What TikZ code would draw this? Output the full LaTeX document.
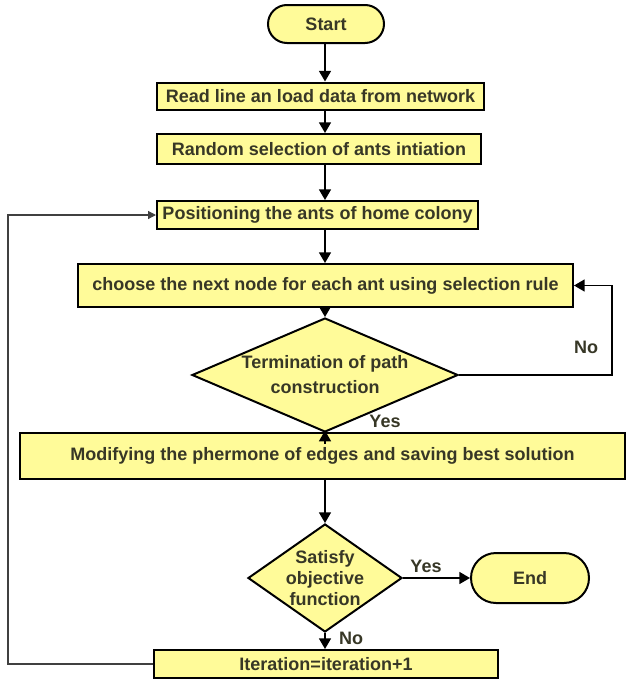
\documentclass[tikz,border=0pt]{standalone}
\usepackage{fontspec}
\setmainfont{Liberation Sans}
\usetikzlibrary{shapes.geometric,shapes.misc,arrows.meta}
\definecolor{boxfill}{RGB}{255,251,153}
\definecolor{txtcol}{RGB}{55,55,38}
\begin{document}
\begin{tikzpicture}[x=0.75pt,y=0.75pt,yscale=-1,xscale=1,
        proc/.style={draw=black,line width=1.5pt,fill=boxfill,inner sep=0pt,text=txtcol,font=\fontsize{13.5}{16}\selectfont\bfseries},
        termbox/.style={proc,rounded rectangle},
        decide/.style={proc,diamond},
        lbl/.style={inner sep=0.75pt,text=txtcol,align=center,font=\fontsize{13.5}{16}\selectfont\bfseries},
        flow/.style={line width=1.2pt,-{Triangle[width=9pt,length=8pt]}},
        backflow/.style={line width=0.9pt,draw=black!75,-{Triangle[width=6pt,length=6pt]}}]
        \useasboundingbox (0,0) rectangle (627,682);
        \coordinate (axis) at (325,0);
        \node[termbox,minimum width=87pt,minimum height=28.5pt] (start) at (326,24) {Start};
        \node[proc,minimum width=245.25pt,minimum height=20.25pt] (read) at (320.5,96) {Read line an load data from network};
        \node[proc,minimum width=243pt,minimum height=22.5pt] (rand) at (319,149) {Random selection of ants intiation};
        \node[proc,minimum width=240.75pt,minimum height=21pt] (pos) at (317.5,215) {Positioning the ants of home colony};
        \node[proc,minimum width=371.25pt,minimum height=32.25pt] (choose) at (325.5,285.5) {choose the next node for each ant using selection rule};
        \node[decide,minimum width=199.5pt,minimum height=85.5pt] (pathend) at (325,375) {};
        \node[lbl,font=\fontsize{13.5}{18.75}\selectfont\bfseries] (pathtxt) at (pathend) {Termination of path\\construction};
        \node[proc,minimum width=453.75pt,minimum height=34.5pt] (modify) at (322.5,456) {Modifying the phermone of edges and saving best solution};
        \node[decide,minimum width=115.5pt,minimum height=81pt] (satisfy) at (325,578) {};
        \node[lbl,font=\fontsize{13.5}{15.75}\selectfont\bfseries] (sattxt) at (satisfy) {Satisfy\\objective\\function};
        \node[termbox,minimum width=88.5pt,minimum height=37.5pt] (finish) at (530,578) {End};
        \node[proc,minimum width=258pt,minimum height=21pt] (iter) at (326,664) {Iteration=iteration+1};
        \coordinate (rloop) at (612,375);
        \coordinate (lloop) at (8,664);
        \draw[flow] (axis |- start.south) -- (axis |- read.north);
        \draw[flow] (axis |- read.south) -- (axis |- rand.north);
        \draw[flow] (axis |- rand.south) -- (axis |- pos.north);
        \draw[flow] (axis |- pos.south) -- (axis |- choose.north);
        \draw[flow] (axis |- choose.south) -- (pathend.north);
        \draw[flow] ([yshift=8pt]pathend.south) -- ([yshift=-1pt]axis |- modify.north);
        \draw[flow] (axis |- modify.south) -- (satisfy.north);
        \draw[flow] (satisfy.south) -- (axis |- iter.north);
        \draw[flow] (satisfy.east) -- (finish.west);
        \draw[flow] (pathend.east) -- (rloop) |- (choose.east);
        \draw[backflow] (iter.west) -- (lloop) |- (pos.west);
        \node[lbl] (yes1) at (385,421) {Yes};
        \node[lbl] (no1) at (586,347) {No};
        \node[lbl] (yes2) at (426,566) {Yes};
        \node[lbl] (no2) at (351,638) {No};
\end{tikzpicture}
\end{document}
